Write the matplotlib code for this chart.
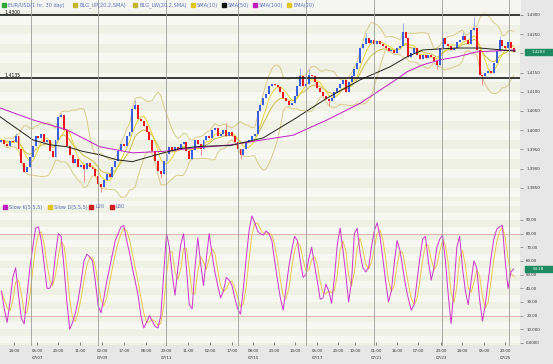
import numpy as np
import pandas as pd
import matplotlib
matplotlib.use("Agg")
import matplotlib.pyplot as plt
from matplotlib.patches import Rectangle
from matplotlib.lines import Line2D
from matplotlib.transforms import blended_transform_factory

W, H = 553, 364

# EUR/USD closes, one candle per 2 hours
first_open = 1.3970
closes = [
    1.3975, 1.3965, 1.3960, 1.3972, 1.3968, 1.3985, 1.3950, 1.3915, 1.3890, 1.3905,
    1.3930, 1.3960, 1.3985, 1.3980, 1.3990, 1.3968, 1.3975, 1.3945, 1.3930, 1.3975,
    1.4035, 1.4040, 1.4000, 1.3960, 1.3935, 1.3915, 1.3925, 1.3905, 1.3910, 1.3900,
    1.3915, 1.3905, 1.3900, 1.3880, 1.3860, 1.3852, 1.3870, 1.3885, 1.3878, 1.3905,
    1.3920, 1.3945, 1.3965, 1.3960, 1.3985, 1.3995, 1.4055, 1.4065, 1.4030, 1.4025,
    1.4010, 1.3995, 1.3975, 1.3945, 1.3920, 1.3895, 1.3885, 1.3920, 1.3938, 1.3955,
    1.3945, 1.3955, 1.3950, 1.3965, 1.3970, 1.3945, 1.3925, 1.3948, 1.3975, 1.3965,
    1.3950, 1.3975, 1.3985, 1.3980, 1.4000, 1.4005, 1.3985, 1.3990, 1.4000, 1.3985,
    1.3995, 1.3985, 1.3970, 1.3950, 1.3935, 1.3950, 1.3968, 1.3975, 1.3985, 1.3990,
    1.4050, 1.4065, 1.4085, 1.4095, 1.4115, 1.4120, 1.4118, 1.4112, 1.4100, 1.4085,
    1.4075, 1.4065, 1.4070, 1.4090, 1.4115, 1.4140, 1.4115, 1.4120, 1.4145, 1.4140,
    1.4125, 1.4110, 1.4100, 1.4090, 1.4080, 1.4075, 1.4085, 1.4100, 1.4110, 1.4120,
    1.4130, 1.4100, 1.4125, 1.4140, 1.4160, 1.4175, 1.4215, 1.4225, 1.4240, 1.4228,
    1.4235, 1.4225, 1.4232, 1.4225, 1.4220, 1.4215, 1.4205, 1.4210, 1.4200, 1.4215,
    1.4220, 1.4255, 1.4240, 1.4190, 1.4200, 1.4215, 1.4195, 1.4185, 1.4195, 1.4188,
    1.4195, 1.4190, 1.4180, 1.4170, 1.4215, 1.4240, 1.4225, 1.4220, 1.4210, 1.4215,
    1.4230, 1.4235, 1.4245, 1.4235, 1.4225, 1.4260, 1.4265, 1.4210, 1.4145, 1.4140,
    1.4150, 1.4155, 1.4150, 1.4175, 1.4205, 1.4235, 1.4220, 1.4215, 1.4230, 1.4215,
    1.4203,
]
# long wicks that stick out of the bodies (bar index -> price)
spike_highs = {5: 1.3992, 21: 1.4046, 47: 1.4078, 79: 1.4018, 105: 1.4162,
               108: 1.4160, 128: 1.4253, 141: 1.4280, 162: 1.4255, 166: 1.4295,
               175: 1.4245}
spike_lows = {29: 1.3865, 35: 1.3838, 56: 1.3875, 70: 1.3935, 84: 1.3925,
              115: 1.4062, 153: 1.4160, 169: 1.4118}

# SMA(50) / SMA(100) (hour, price)
sma50_hours = [0, 23, 35, 47, 58, 70, 82, 93, 109, 126, 141, 162, 185, 206,
               230, 253, 274, 286, 297, 321, 337, 362]
sma50_vals = [1.4035, 1.3975, 1.3962, 1.3957, 1.3945, 1.3936, 1.3923, 1.3918,
              1.3935, 1.3952, 1.3958, 1.3960, 1.3980, 1.4027, 1.4084, 1.4131,
              1.4165, 1.4191, 1.4209, 1.4214, 1.4214, 1.4206]
sma100_hours = [0, 23, 47, 70, 93, 115, 138, 162, 185, 206, 230, 253, 278,
                286, 297, 309, 321, 335, 362]
sma100_vals = [1.4058, 1.4027, 1.4001, 1.3957, 1.3941, 1.3945, 1.3954, 1.3962,
               1.3975, 1.3987, 1.4027, 1.4070, 1.4131, 1.4152, 1.4170, 1.4183,
               1.4191, 1.4204, 1.4209]

# Slow %K(5,5,5), one value per candle
slow_k = [
    38, 25, 15, 30, 48, 55, 35, 18, 14, 35,
    55, 70, 84, 85, 75, 58, 40, 40, 45, 65,
    80, 78, 55, 30, 10, 15, 22, 32, 45, 60,
    65, 63, 60, 45, 27, 22, 33, 45, 55, 65,
    75, 80, 85, 86, 75, 66, 55, 45, 35, 20,
    11, 15, 20, 16, 12, 11, 20, 50, 80, 70,
    50, 35, 55, 72, 80, 55, 28, 25, 55, 77,
    58, 42, 62, 80, 65, 52, 42, 33, 38, 48,
    46, 42, 33, 25, 21, 40, 62, 82, 93, 88,
    82, 80, 79, 82, 80, 75, 60, 46, 33, 24,
    40, 56, 68, 78, 75, 60, 48, 50, 62, 70,
    57, 45, 32, 33, 43, 38, 29, 48, 72, 84,
    68, 50, 30, 45, 80, 84, 66, 55, 52, 55,
    70, 82, 88, 78, 62, 45, 30, 38, 58, 75,
    68, 55, 42, 32, 24, 28, 45, 62, 76, 78,
    60, 46, 55, 70, 76, 79, 60, 35, 14, 40,
    70, 78, 55, 38, 28, 45, 60, 55, 32, 16,
    28, 45, 62, 76, 83, 85, 86, 60, 40, 52,
    54.18,
]

# x axis (hours since chart start)
tick_hours = [9.8, 26, 40.8, 56.2, 71.7, 87.1, 102.6, 116.7, 132.1, 147.6, 163,
              177.8, 192.6, 207.3, 222.8, 237.5, 249.5, 264.2, 279, 293.7,
              309.9, 324.7, 340.1, 354.9]
tick_labels = ["14:00", "05:00\n07/07", "20:00", "11:00", "02:00\n07/09", "17:00",
               "08:00", "23:00\n07/11", "11:00", "02:00", "17:00", "08:00\n07/15",
               "23:00", "14:00", "05:00\n07/17", "20:00", "10:00", "01:00\n07/21",
               "16:00", "07:00", "23:00\n07/23", "14:00", "05:00", "20:00\n07/25"]
day_lines = [21.8, 68.9, 116.7, 167.3, 215.0, 262.8, 310.6, 357.7]
hlines = [1.4300, 1.4135]

price_legend = [("EUR/USD(1 hr, 30 day)", "#33a83a"), ("BLG_UP(20,2,SMA)", "#c8b62a"),
                ("BLG_LW(20,2,SMA)", "#c8b62a"), ("SMA(10)", "#e2c520"),
                ("SMA(50)", "#111111"), ("SMA(100)", "#c21fc2"), ("EMA(20)", "#e2c520")]
price_legend_x = [2, 73, 133, 191, 222, 253, 287]
stoch_legend = [("Slow K(5,5,5)", "#c21fc2"), ("Slow D(5,5,5)", "#e2c520"),
                ("L20", "#cc2020"), ("L80", "#cc2020")]
stoch_legend_x = [3, 48, 89, 110]

UP, DOWN = "#3a5ee0", "#e8161e"
UP_WICK, DOWN_WICK = "#8ea4ee", "#f08080"
BB_COL, SMA10_COL, EMA20_COL = "#dccb8a", "#e9d63a", "#cdbb48"
K_COL, D_COL = "#cc33cc", "#e8c850"
TXT = "#5b6fbf"
STRIPE_A, STRIPE_B = "#eef1e3", "#f7f8f1"

# ---- derived series -------------------------------------------------------
c = pd.Series(closes)
hours = np.arange(len(closes)) * 2 + 1
opens = np.array([first_open] + closes[:-1])
cl = np.array(closes)
highs = np.maximum(opens, cl)
lows = np.minimum(opens, cl)
for i, v in spike_highs.items():
    highs[i] = max(highs[i], v)
for i, v in spike_lows.items():
    lows[i] = min(lows[i], v)

# hourly periods halved for 2-hour candles
sma10 = c.rolling(5, min_periods=1).mean()
ema20 = c.ewm(span=10, adjust=False).mean()
mid = c.rolling(10, min_periods=2).mean()
sd = c.rolling(10, min_periods=2).std(ddof=0)
bb_up, bb_lo = mid + 2 * sd, mid - 2 * sd
k = pd.Series(slow_k, dtype=float)
d = k.rolling(3, min_periods=1).mean()

# ---- figure ---------------------------------------------------------------
fig = plt.figure(figsize=(W / 100, H / 100), dpi=100, facecolor="#e7e7e7")
plot_w = 520 / W
ax1 = fig.add_axes([0, 1 - 201 / H, plot_w, 190 / H])
ax2 = fig.add_axes([0, 1 - 345 / H, plot_w, 144 / H])
fig.add_artist(Rectangle((0, 1 - 11 / H), plot_w, 11 / H, transform=fig.transFigure,
                         color="#f5f6f1", zorder=0))

for ax in (ax1, ax2):
    ax.set_xlim(0, 365.4)
    for s in ax.spines.values():
        s.set_visible(False)
    ax.yaxis.tick_right()
    ax.tick_params(axis="y", length=2.5, width=0.5, color="#777777", pad=2,
                   labelsize=2.9, labelcolor="#333333")

ax1.set_ylim(1.38156, 1.43104)
ax2.set_ylim(-1.5, 103.9)

# striped background
lv = 1.3800
n = 0
while lv < 1.4325:
    ax1.axhspan(lv, lv + 0.0025, color=STRIPE_A if n % 2 == 0 else STRIPE_B, lw=0, zorder=0)
    lv += 0.0025
    n += 1
for j, lv in enumerate(range(-5, 105, 5)):
    ax2.axhspan(lv, lv + 5, color=STRIPE_A if j % 2 == 0 else STRIPE_B, lw=0, zorder=0)

# candles
up = cl >= opens
for mask, body, wick in ((up, UP, UP_WICK), (~up, DOWN, DOWN_WICK)):
    ax1.vlines(hours[mask], lows[mask], highs[mask], color=wick, lw=0.6, zorder=3)
    bot = np.minimum(opens, cl)[mask]
    hgt = np.maximum(np.abs(cl - opens)[mask], 0.00005)
    ax1.bar(hours[mask], hgt, bottom=bot, width=1.4, color=body, linewidth=0, zorder=4)

ax1.plot(hours, bb_up, color=BB_COL, lw=0.7, zorder=2)
ax1.plot(hours, bb_lo, color=BB_COL, lw=0.7, zorder=2)
ax1.plot(hours, ema20, color=EMA20_COL, lw=0.7, zorder=2)
ax1.plot(hours, sma10, color=SMA10_COL, lw=0.7, zorder=2)
ax1.plot(sma100_hours, sma100_vals, color="#c21fc2", lw=0.7, zorder=5)
ax1.plot(sma50_hours, sma50_vals, color="#222222", lw=0.7, zorder=5)

for lv in hlines:
    ax1.axhline(lv, color="#1a1a1a", lw=1.2, zorder=6)
    ax1.text(0.009, lv + 0.0001, f"{lv:.4f}", transform=ax1.get_yaxis_transform(),
             fontsize=3.3, color="#111111", va="bottom", ha="left", zorder=7)

# the 1.4200 label sits under the last-price box
price_ticks = np.round(np.arange(1.385, 1.4301, 0.005), 4)
ax1.set_yticks(price_ticks)
ax1.set_yticklabels(["" if abs(p - 1.42) < 1e-6 else f"{p:.4f}" for p in price_ticks])
ax1.tick_params(axis="x", bottom=False, labelbottom=False)

# stochastic
ax2.axhline(20, color="#d89a9a", lw=0.5, zorder=1)
ax2.axhline(80, color="#d89a9a", lw=0.5, zorder=1)
ax2.plot(hours, d, color=D_COL, lw=0.7, zorder=3)
ax2.plot(hours, k, color=K_COL, lw=0.7, zorder=4)
ax2.set_yticks(range(0, 91, 10))
ax2.set_yticklabels(["0.0000", "10.000"] + [f"{v}.00" for v in range(20, 91, 10)])
ax2.set_xticks(tick_hours)
ax2.set_xticklabels(tick_labels)
ax2.tick_params(axis="x", direction="in", length=2, width=0.5, color="#555555",
                labelsize=2.9, labelcolor="#333333", pad=3)
for lab in ax2.get_xticklabels():
    lab.set_linespacing(1.9)
    lab.set_verticalalignment("top")

# day separators run through both panels and the legend strip
tr = blended_transform_factory(ax1.transData, fig.transFigure)
for h in day_lines:
    fig.add_artist(Line2D([h, h], [1 - 345 / H, 1], transform=tr, color="#9c9c9c",
                          lw=0.6, zorder=1.5))

# last-value boxes
def value_box(ax, val, txt, half):
    trb = ax.get_yaxis_transform()
    ax.add_patch(Rectangle((1.0095, val - half), 0.06, 2 * half, transform=trb,
                           color="#1f8b62", clip_on=False, zorder=8))
    ax.text(1.035, val, txt, transform=trb, color="white", fontsize=2.9,
            ha="center", va="center", zorder=9, clip_on=False)

value_box(ax1, closes[-1], f"{closes[-1]:.4f}", 0.00078)
value_box(ax2, slow_k[-1], f"{slow_k[-1]:.2f}", 2.3)

# legends
def draw_legend(items, xs, ycen):
    for (lab, col), x in zip(items, xs):
        fig.add_artist(Rectangle((x / W, 1 - (ycen + 2) / H), 4 / W, 4 / H,
                                 transform=fig.transFigure, color=col, zorder=10))
        fig.text((x + 6) / W, 1 - ycen / H, lab, fontsize=3.6, color=TXT,
                 va="center", ha="left", zorder=10)

draw_legend(price_legend, price_legend_x, 5)
draw_legend(stoch_legend, stoch_legend_x, 207)

fig.savefig("out.png", dpi=100, facecolor=fig.get_facecolor())
